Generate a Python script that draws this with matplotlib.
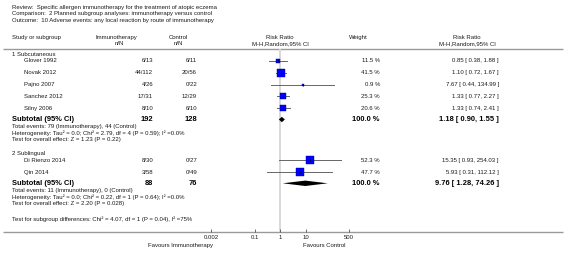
import numpy as np
import matplotlib
matplotlib.use("Agg")
import matplotlib.pyplot as plt

plt.rcParams['font.family'] = ['Liberation Sans', 'DejaVu Sans']

# ---------------- data ----------------
title_lines = [
    "Review:  Specific allergen immunotherapy for the treatment of atopic eczema",
    "Comparison:  2 Planned subgroup analyses: immunotherapy versus control",
    "Outcome:  10 Adverse events: any local reaction by route of immunotherapy",
]
group_names = ["1 Subcutaneous", "2 Sublingual"]
studies = [
    ["Glover 1992", "Novak 2012", "Pajno 2007", "Sanchez 2012", "Silny 2006"],
    ["Di Rienzo 2014", "Qin 2014"],
]
immuno_nN = [["6/13", "44/112", "4/26", "17/31", "8/10"], ["8/30", "3/58"]]
control_nN = [["6/11", "20/56", "0/22", "12/29", "6/10"], ["0/27", "0/49"]]
rr = [[0.85, 1.10, 7.67, 1.33, 1.33], [15.35, 5.93]]
rr_lo = [[0.38, 0.72, 0.44, 0.77, 0.74], [0.93, 0.31]]
rr_hi = [[1.88, 1.67, 134.99, 2.27, 2.41], [254.03, 112.12]]
weights = [[11.5, 41.5, 0.9, 25.3, 20.6], [52.3, 47.7]]
sub_total_immuno = ["192", "88"]
sub_total_control = ["128", "76"]
sub_rr = [1.18, 9.76]
sub_lo = [0.90, 1.28]
sub_hi = [1.55, 74.26]
sub_events = ["Total events: 79 (Immunotherapy), 44 (Control)",
              "Total events: 11 (Immunotherapy), 0 (Control)"]
sub_het = ["Heterogeneity: Tau\u00b2 = 0.0; Chi\u00b2 = 2.79, df = 4 (P = 0.59); I\u00b2 =0.0%",
           "Heterogeneity: Tau\u00b2 = 0.0; Chi\u00b2 = 0.22, df = 1 (P = 0.64); I\u00b2 =0.0%"]
sub_z = ["Test for overall effect: Z = 1.23 (P = 0.22)",
         "Test for overall effect: Z = 2.20 (P = 0.028)"]
subgroup_diff = "Test for subgroup differences: Chi\u00b2 = 4.07, df = 1 (P = 0.04), I\u00b2 =75%"
tick_values = [0.002, 0.1, 1, 10, 500]
tick_labels = ["0.002", "0.1", "1", "10", "500"]
fav_left = "Favours Immunotherapy"
fav_right = "Favours Control"

# ---------------- layout ----------------
W, H = 566, 257
fig = plt.figure(figsize=(W / 100, H / 100), dpi=100)
ax0 = fig.add_axes([0, 0, 1, 1])
ax0.set_xlim(0, W)
ax0.set_ylim(H, 0)
ax0.axis('off')

FS = 4.3
FSB = 5.4
TXT = '#1a1a1a'

# forest axes: log scale, 1 at x=280 px, 25.5 px per decade
px_one, px_dec = 280.0, 25.5
fx0, fx1 = 196.0, 364.0
y_top, y_bot = 49.0, 232.0
ax = fig.add_axes([fx0 / W, 1 - y_bot / H, (fx1 - fx0) / W, (y_bot - y_top) / H])
ax.set_xscale('log')
ax.set_xlim(10 ** ((fx0 - px_one) / px_dec), 10 ** ((fx1 - px_one) / px_dec))
ax.set_ylim(y_bot, y_top)
ax.patch.set_alpha(0)
for s in ax.spines.values():
    s.set_visible(False)
ax.set_yticks([])
ax.set_xticks(tick_values)
ax.set_xticklabels(tick_labels)
ax.xaxis.set_minor_locator(matplotlib.ticker.NullLocator())
ax.tick_params(axis='x', direction='in', length=2.0, width=0.5, color='#333333',
               labelsize=FS, pad=2.5, labelcolor=TXT)

# title
for i, t in enumerate(title_lines):
    ax0.text(12, 7 + i * 6.6, t, fontsize=FS, va='center', ha='left', color=TXT)

# header
hy1, hy2 = 37.5, 43.8
ax0.text(12, hy1, "Study or subgroup", fontsize=FS, va='center', color=TXT)
ax0.text(116, hy1, "Immunotherapy", fontsize=FS, va='center', ha='center', color=TXT)
ax0.text(124, hy2, "n/N", fontsize=FS, va='center', ha='right', color=TXT)
ax0.text(178, hy1, "Control", fontsize=FS, va='center', ha='center', color=TXT)
ax0.text(183, hy2, "n/N", fontsize=FS, va='center', ha='right', color=TXT)
ax0.text(280, hy1, "Risk Ratio", fontsize=FS, va='center', ha='center', color=TXT)
ax0.text(280, hy2, "M-H,Random,95% CI", fontsize=FS, va='center', ha='center', color=TXT)
ax0.text(358, hy1, "Weight", fontsize=FS, va='center', ha='center', color=TXT)
ax0.text(467, hy1, "Risk Ratio", fontsize=FS, va='center', ha='center', color=TXT)
ax0.text(467, hy2, "M-H,Random,95% CI", fontsize=FS, va='center', ha='center', color=TXT)
ax0.plot([3, 563], [49, 49], color='#9a9a9a', lw=1.0, solid_capstyle='butt')
ax0.plot([3, 563], [232, 232], color='#9a9a9a', lw=1.0, solid_capstyle='butt')

# vertical line at RR = 1
ax.plot([1, 1], [y_top + 1, y_bot - 1], color='#d8d8d8', lw=1.4, zorder=1)

x_imm, x_con, x_w, x_rr = 153, 197, 380, 499
row_h = 11.9
group_start = [54.5, 154.0]
for g in range(2):
    gy = group_start[g]
    ax0.text(12, gy, group_names[g], fontsize=FS, va='center', color=TXT)
    for i, name in enumerate(studies[g]):
        y = gy + 6.2 + i * row_h
        ax0.text(24, y, name, fontsize=FS, va='center', color=TXT)
        ax0.text(x_imm, y, immuno_nN[g][i], fontsize=FS, va='center', ha='right', color=TXT)
        ax0.text(x_con, y, control_nN[g][i], fontsize=FS, va='center', ha='right', color=TXT)
        ax0.text(x_w, y, f"{weights[g][i]:.1f} %", fontsize=FS, va='center', ha='right', color=TXT)
        ax0.text(x_rr, y, f"{rr[g][i]:.2f} [ {rr_lo[g][i]:.2f}, {rr_hi[g][i]:.2f} ]",
                 fontsize=FS, va='center', ha='right', color=TXT)
        ax.plot([rr_lo[g][i], rr_hi[g][i]], [y, y], color='#666666', lw=0.7, zorder=2)
        side_pt = 1.2 * np.sqrt(weights[g][i]) * 0.72
        ax.scatter([rr[g][i]], [y], marker='s', s=side_pt ** 2, color='#0000ff',
                   edgecolors='#00008b', linewidths=0.3, zorder=3)
        ax.scatter([rr[g][i]], [y], marker='|', s=4, color='black', linewidths=0.5, zorder=4)
    ys = gy + 6.2 + len(studies[g]) * row_h - 0.7
    ax0.text(12, ys, "Subtotal (95% CI)", fontsize=FSB, fontweight='bold', va='center', color='black')
    ax0.text(x_imm, ys, sub_total_immuno[g], fontsize=FSB, fontweight='bold', va='center', ha='right')
    ax0.text(x_con, ys, sub_total_control[g], fontsize=FSB, fontweight='bold', va='center', ha='right')
    ax0.text(x_w, ys, "100.0 %", fontsize=FSB, fontweight='bold', va='center', ha='right')
    ax0.text(x_rr, ys, f"{sub_rr[g]:.2f} [ {sub_lo[g]:.2f}, {sub_hi[g]:.2f} ]",
             fontsize=FSB, fontweight='bold', va='center', ha='right')
    hh = 2.7
    ax.fill([sub_lo[g], sub_rr[g], sub_hi[g], sub_rr[g]], [ys, ys - hh, ys, ys + hh],
            color='black', lw=0, zorder=3)
    for k, t in enumerate([sub_events[g], sub_het[g], sub_z[g]]):
        ax0.text(12, ys + 7.0 + k * 6.7, t, fontsize=FS, va='center', color=TXT)

ax0.text(12, 219, subgroup_diff, fontsize=FS, va='center', color=TXT)

ax0.text(213, 245.5, fav_left, fontsize=FS, va='center', ha='right', color=TXT)
ax0.text(303, 245.5, fav_right, fontsize=FS, va='center', ha='left', color=TXT)

fig.savefig("out.png", dpi=100)
